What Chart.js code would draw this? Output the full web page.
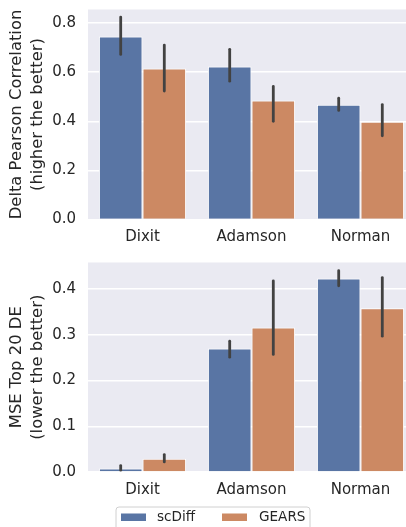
<!DOCTYPE html>
<html>
<head>
<meta charset="utf-8">
<script src="https://cdn.jsdelivr.net/npm/chart.js@4.4.1/dist/chart.umd.min.js"></script>
<style>
    html, body { margin: 0; padding: 0; background: #ffffff; }
    #wrap { position: relative; width: 406px; height: 527px; overflow: hidden; }
    #pearsonChart { position: absolute; left: 0; top: 0; }
    #mseChart { position: absolute; left: 0; top: 250px; }
</style>
</head>
<body>
<div id="wrap">
    <canvas id="pearsonChart" width="416" height="250"></canvas>
    <canvas id="mseChart" width="416" height="277"></canvas>
</div>
<script>
// Datasets on the x axis
const datasetNames = ['Dixit', 'Adamson', 'Norman'];
const methodNames = ['scDiff', 'GEARS'];

// Delta Pearson correlation (mean, and the error bar ends)
const pearsonScDiff = [0.745, 0.623, 0.467];
const pearsonScDiffLo = [0.672, 0.563, 0.444];
const pearsonScDiffHi = [0.824, 0.693, 0.494];
const pearsonGears = [0.615, 0.485, 0.398];
const pearsonGearsLo = [0.523, 0.400, 0.341];
const pearsonGearsHi = [0.710, 0.542, 0.468];

// MSE on the top 20 DE genes
const mseScDiff = [0.0075, 0.270, 0.423];
const mseScDiffLo = [0.004, 0.251, 0.407];
const mseScDiffHi = [0.014, 0.286, 0.440];
const mseGears = [0.029, 0.316, 0.358];
const mseGearsLo = [0.022, 0.257, 0.297];
const mseGearsHi = [0.038, 0.418, 0.425];

const blue = '#5975a4';
const orange = '#cc8963';
const textColor = '#262626';
const fontFamily = '"DejaVu Sans", sans-serif';

// Grey panel behind the bars, like seaborn darkgrid
const panelBackground = {
    id: 'panelBackground',
    beforeDraw(chart) {
        const { ctx, chartArea } = chart;
        ctx.save();
        ctx.fillStyle = '#eaeaf2';
        ctx.fillRect(chartArea.left, chartArea.top, chartArea.right - chartArea.left, chartArea.bottom - chartArea.top);
        ctx.restore();
    }
};

// Vertical error bars from errLo / errHi of each dataset
const errorBars = {
    id: 'errorBars',
    afterDatasetsDraw(chart) {
        const { ctx } = chart;
        const yScale = chart.scales.y;
        ctx.save();
        ctx.strokeStyle = '#424242';
        ctx.lineWidth = 2.8;
        ctx.lineCap = 'round';
        chart.data.datasets.forEach((ds, i) => {
            const meta = chart.getDatasetMeta(i);
            meta.data.forEach((bar, j) => {
                ctx.beginPath();
                ctx.moveTo(bar.x, yScale.getPixelForValue(ds.errLo[j]));
                ctx.lineTo(bar.x, yScale.getPixelForValue(ds.errHi[j]));
                ctx.stroke();
            });
        });
        ctx.restore();
    }
};

// Framed legend under the lower chart
const boxLegend = {
    id: 'boxLegend',
    afterDraw(chart) {
        const { ctx } = chart;
        ctx.save();
        ctx.fillStyle = 'rgba(255,255,255,0.8)';
        ctx.strokeStyle = '#d0d0d0';
        ctx.lineWidth = 1;
        ctx.beginPath();
        ctx.roundRect(116, 257, 194, 40, 3);
        ctx.fill();
        ctx.stroke();

        const patchX = [121, 222];
        const textX = [157, 259];
        ctx.font = '13.6px ' + fontFamily;
        ctx.textBaseline = 'middle';
        chart.data.datasets.forEach((ds, i) => {
            ctx.fillStyle = ds.backgroundColor;
            ctx.fillRect(patchX[i], 263.5, 25, 7.5);
            ctx.fillStyle = textColor;
            ctx.fillText(ds.label, textX[i], 267.5);
        });
        ctx.restore();
    }
};

function makeDatasets(a, aLo, aHi, b, bLo, bHi) {
    return [
        { label: methodNames[0], data: a, errLo: aLo, errHi: aHi, backgroundColor: blue, borderColor: '#ffffff', borderWidth: 1 },
        { label: methodNames[1], data: b, errLo: bLo, errHi: bHi, backgroundColor: orange, borderColor: '#ffffff', borderWidth: 1 }
    ];
}

function makeConfig(datasets, yTitle, yMax, step, padding, plugins) {
    return {
        type: 'bar',
        data: { labels: datasetNames, datasets: datasets },
        options: {
            responsive: false,
            animation: false,
            layout: { padding: padding },
            categoryPercentage: 0.8,
            barPercentage: 1.0,
            plugins: { legend: { display: false }, tooltip: { enabled: false } },
            scales: {
                x: {
                    grid: { display: false, drawTicks: false },
                    border: { display: false },
                    ticks: { color: textColor, padding: 9, font: { family: fontFamily, size: 15 } },
                    afterFit: (scale) => { scale.height = 27; scale.paddingLeft = 0; scale.paddingRight = 0; }
                },
                y: {
                    min: 0,
                    max: yMax,
                    grid: { color: '#ffffff', lineWidth: 1.4, drawTicks: false },
                    border: { display: false },
                    ticks: {
                        stepSize: step,
                        includeBounds: false,
                        padding: 12,
                        color: textColor,
                        font: { family: fontFamily, size: 15 },
                        callback: (v) => v.toFixed(1)
                    },
                    title: {
                        display: true,
                        text: yTitle,
                        color: textColor,
                        padding: { top: 0, bottom: 4 },
                        font: { family: fontFamily, size: 16.4, lineHeight: 1.3 }
                    },
                    afterFit: (scale) => { scale.width = 82; scale.paddingTop = 0; scale.paddingBottom = 0; }
                }
            }
        },
        plugins: plugins
    };
}

function renderCharts() {
    const pearsonConfig = makeConfig(
        makeDatasets(pearsonScDiff, pearsonScDiffLo, pearsonScDiffHi, pearsonGears, pearsonGearsLo, pearsonGearsHi),
        ['Delta Pearson Correlation', '(higher the better)'],
        0.855, 0.2,
        { left: 6, top: 9.5, right: 1, bottom: 3.5 },
        [panelBackground, errorBars]
    );
    const mseConfig = makeConfig(
        makeDatasets(mseScDiff, mseScDiffLo, mseScDiffHi, mseGears, mseGearsLo, mseGearsHi),
        ['MSE Top 20 DE', '(lower the better)'],
        0.458, 0.1,
        { left: 6, top: 12.5, right: 1, bottom: 28 },
        [panelBackground, errorBars, boxLegend]
    );

    new Chart(document.getElementById('pearsonChart'), pearsonConfig);
    new Chart(document.getElementById('mseChart'), mseConfig);
}

renderCharts();
</script>
</body>
</html>
